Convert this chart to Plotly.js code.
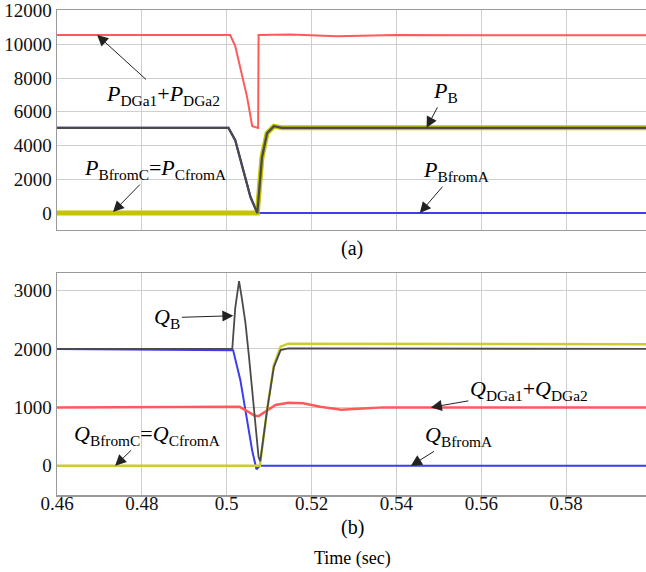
<!DOCTYPE html>
<html>
<head>
<meta charset="utf-8">
<script src="https://cdn.plot.ly/plotly-3.0.1.min.js"></script>
<style>html,body{margin:0;padding:0;background:#fff;}#chart{width:646px;height:572px;}</style>
</head>
<body>
<div id="chart"></div>
<script>
// ---- (a) active power ----
const tPDG   = [0.46, 0.4800, 0.4950, 0.5008, 0.5020, 0.5032, 0.5048, 0.5060, 0.5074, 0.5075, 0.5150, 0.5260, 0.5400, 0.5600, 0.5990];
const vPDG   = [10550, 10560, 10540, 10550, 9900, 8640, 6870, 5150, 5050, 10550, 10580, 10470, 10550, 10540, 10540];
const tPB    = [0.46, 0.5004, 0.5020, 0.5040, 0.5056, 0.5072, 0.5083, 0.5095, 0.5111, 0.5130, 0.5990];
const vPB    = [5050, 5050, 4320, 2370, 950, 0, 3300, 4730, 5150, 5050, 5050];
const tPBC   = [0.46, 0.5072, 0.5083, 0.5095, 0.5111, 0.5130, 0.5990];
const vPBC   = [0, 0, 3300, 4730, 5150, 5050, 5050];
const tPBA   = [0.46, 0.5004, 0.5020, 0.5040, 0.5056, 0.5072, 0.5990];
const vPBA   = [5050, 5050, 4320, 2370, 950, 0, 0];

// ---- (b) reactive power ----
const tQB    = [0.46, 0.5013, 0.5020, 0.5029, 0.5036, 0.5044, 0.5052, 0.5060, 0.5068, 0.5075, 0.5079, 0.5087, 0.5095, 0.5111, 0.5127, 0.5145, 0.5990];
const vQB    = [2000, 2000, 2700, 3160, 2850, 2450, 1900, 1250, 650, 150, 80, 500, 950, 1690, 1980, 2010, 2000];
const tQBC   = [0.46, 0.5078, 0.5087, 0.5095, 0.5111, 0.5127, 0.5145, 0.5990];
const vQBC   = [0, 0, 500, 950, 1720, 2040, 2090, 2080];
const tQBA   = [0.46, 0.5015, 0.5032, 0.5048, 0.5060, 0.5070, 0.5078, 0.5990];
const vQBA   = [2000, 1980, 1470, 780, 260, -60, 0, 0];
const tQDG   = [0.46, 0.5015, 0.5030, 0.5045, 0.5065, 0.5075, 0.5090, 0.5115, 0.5145, 0.5180, 0.5220, 0.5270, 0.5320, 0.5370, 0.5990];
const vQDG   = [1000, 1000, 1010, 950, 860, 850, 920, 1040, 1080, 1070, 1010, 960, 980, 1000, 1000];

const xTicks = [0.46, 0.48, 0.5, 0.52, 0.54, 0.56, 0.58];
const yTicksA = [0, 2000, 4000, 6000, 8000, 10000, 12000];
const yTicksB = [0, 1000, 2000, 3000];

const RED = '#ff5a5a', BLUE = '#3c3cf0', YEL = '#c4c400', YEL2 = '#cccc30', GRAY = '#4a4a4a';

const traces = [
  {x: tPBA, y: vPBA, xaxis: 'x2', yaxis: 'y2', mode: 'lines', line: {color: BLUE, width: 2}},
  {x: tPDG, y: vPDG, xaxis: 'x2', yaxis: 'y2', mode: 'lines', line: {color: RED, width: 2}},
  {x: tPBC, y: vPBC, xaxis: 'x2', yaxis: 'y2', mode: 'lines', line: {color: YEL, width: 5}},
  {x: tPB,  y: vPB,  xaxis: 'x2', yaxis: 'y2', mode: 'lines', line: {color: GRAY, width: 2.3}},
  {x: tQBA, y: vQBA, xaxis: 'x',  yaxis: 'y',  mode: 'lines', line: {color: BLUE, width: 2}},
  {x: tQDG, y: vQDG, xaxis: 'x',  yaxis: 'y',  mode: 'lines', line: {color: RED, width: 2.5}},
  {x: tQBC, y: vQBC, xaxis: 'x',  yaxis: 'y',  mode: 'lines', line: {color: YEL2, width: 2.5}},
  {x: tQB,  y: vQB,  xaxis: 'x',  yaxis: 'y',  mode: 'lines', line: {color: GRAY, width: 1.8}}
];

const SERIF = 'Liberation Serif';
const AF = {family: SERIF, size: 22, color: '#000'};
function ann(xr, yr, x, y, text, ax, ay) {
  return {xref: xr, yref: yr, x: x, y: y, text: text, showarrow: true, ax: ax, ay: ay,
          arrowhead: 2, arrowsize: 2.2, arrowwidth: 1, arrowcolor: '#222', font: AF, standoff: 0};
}
function lab(y, text, size) {
  return {xref: 'paper', yref: 'paper', x: 0.501, y: y, xanchor: 'center', yanchor: 'middle',
          text: text, showarrow: false, font: {family: SERIF, size: size, color: '#000'}};
}
const annotations = [
  ann('x2', 'y2', 0.46945, 10550, '<i>P</i><sub>DGa1</sub>+<i>P</i><sub>DGa2</sub>', 66, 60),
  ann('x2', 'y2', 0.5471, 5050, '<i>P</i><sub>B</sub>', 19, -36),
  ann('x2', 'y2', 0.4732, 60, '<i>P</i><sub>BfromC</sub>=<i>P</i><sub>CfromA</sub>', 42, -43),
  ann('x2', 'y2', 0.5455, 0, '<i>P</i><sub>BfromA</sub>', 36, -42),
  ann('x', 'y', 0.50156, 2569, '<i>Q</i><sub>B</sub>', -66, 2),
  ann('x', 'y', 0.5481, 1000, '<i>Q</i><sub>DGa1</sub>+<i>Q</i><sub>DGa2</sub>', 98, -17),
  ann('x', 'y', 0.4737, 0, '<i>Q</i><sub>BfromC</sub>=<i>Q</i><sub>CfromA</sub>', 32, -31),
  ann('x', 'y', 0.5434, 0, '<i>Q</i><sub>BfromA</sub>', 48, -30),
  lab(0.509, '(a)', 20),
  lab(-0.066, '(b)', 20),
  lab(-0.130, 'Time (sec)', 18)
];

const TF = {family: SERIF, size: 19, color: '#111'};
const xCommon = {range: [0.46, 0.5988], tickvals: xTicks, showgrid: true, gridcolor: '#cfcfcf', gridwidth: 1,
  showline: true, linecolor: '#9a9a9a', linewidth: 1.5, mirror: true, zeroline: false, ticks: '', tickfont: TF};
const layout = {
  width: 646, height: 572,
  font: {family: SERIF, size: 19, color: '#111'},
  margin: {l: 57, r: 0, t: 10, b: 77},
  paper_bgcolor: '#fff', plot_bgcolor: '#fff',
  showlegend: false,
  xaxis: Object.assign({}, xCommon, {anchor: 'y', showticklabels: true, ticklabelstandoff: -9}),
  xaxis2: Object.assign({}, xCommon, {anchor: 'y2', showticklabels: false}),
  yaxis: {domain: [0, 0.4577], range: [-500, 3300], tickvals: yTicksB, tickformat: 'd', showgrid: true, gridcolor: '#cfcfcf',
    showline: true, linecolor: '#9a9a9a', linewidth: 1.5, zeroline: false, ticks: '', tickfont: TF, anchor: 'x'},
  yaxis2: {domain: [0.5464, 1], range: [-1000, 12030], tickvals: yTicksA, tickformat: 'd', showgrid: true, gridcolor: '#cfcfcf',
    showline: true, linecolor: '#9a9a9a', linewidth: 1.5, zeroline: false, ticks: '', tickfont: TF, anchor: 'x2'},
  annotations: annotations
};
Plotly.newPlot('chart', traces, layout, {staticPlot: true, displayModeBar: false});
</script>
</body>
</html>
